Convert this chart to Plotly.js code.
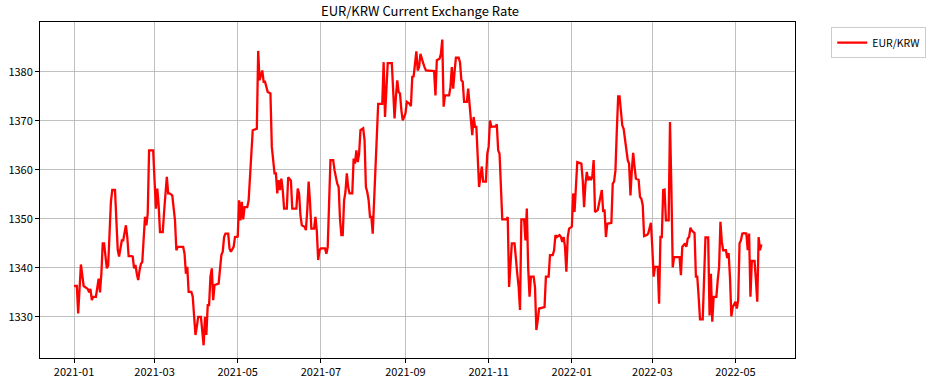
<!DOCTYPE html>
<html>
<head>
<meta charset="utf-8">
<script src="https://cdn.plot.ly/plotly-3.0.1.min.js"></script>
<style>html,body{margin:0;padding:0;background:#fff;}#chart{width:938px;height:386px;}</style>
</head>
<body>
<div id="chart"></div>
<script>
const seriesName = "EUR/KRW";
const chartTitle = "EUR/KRW Current Exchange Rate";

const dates = [
"2021-01-01","2021-01-03","2021-01-04","2021-01-06","2021-01-08","2021-01-10","2021-01-11","2021-01-12","2021-01-13","2021-01-14",
"2021-01-15","2021-01-17","2021-01-18","2021-01-19","2021-01-20","2021-01-21","2021-01-22","2021-01-23","2021-01-25","2021-01-26",
"2021-01-27","2021-01-28","2021-01-29","2021-01-31","2021-02-01","2021-02-02","2021-02-03","2021-02-05","2021-02-06","2021-02-07",
"2021-02-08","2021-02-09","2021-02-10","2021-02-12","2021-02-13","2021-02-14","2021-02-15","2021-02-16","2021-02-17","2021-02-18",
"2021-02-19","2021-02-20","2021-02-21","2021-02-22","2021-02-23","2021-02-24","2021-02-25","2021-02-28","2021-03-01","2021-03-02",
"2021-03-03","2021-03-04","2021-03-05","2021-03-07","2021-03-08","2021-03-09","2021-03-10","2021-03-11","2021-03-12","2021-03-14",
"2021-03-15","2021-03-16","2021-03-17","2021-03-18","2021-03-22","2021-03-23","2021-03-24","2021-03-25","2021-03-26","2021-03-28",
"2021-03-29","2021-03-30","2021-03-31","2021-04-01","2021-04-02","2021-04-04","2021-04-05","2021-04-06","2021-04-07","2021-04-08",
"2021-04-09","2021-04-10","2021-04-11","2021-04-12","2021-04-13","2021-04-14","2021-04-17","2021-04-19","2021-04-20","2021-04-21",
"2021-04-22","2021-04-24","2021-04-25","2021-04-26","2021-04-28","2021-04-29","2021-05-01","2021-05-02","2021-05-03","2021-05-04",
"2021-05-05","2021-05-06","2021-05-08","2021-05-09","2021-05-12","2021-05-15","2021-05-16","2021-05-17","2021-05-18","2021-05-19",
"2021-05-20","2021-05-21","2021-05-23","2021-05-25","2021-05-26","2021-05-28","2021-05-29","2021-05-30","2021-05-31","2021-06-01",
"2021-06-02","2021-06-03","2021-06-04","2021-06-06","2021-06-07","2021-06-09","2021-06-10","2021-06-13","2021-06-14","2021-06-15",
"2021-06-16","2021-06-17","2021-06-19","2021-06-20","2021-06-21","2021-06-22","2021-06-23","2021-06-24","2021-06-26","2021-06-27",
"2021-06-28","2021-06-29","2021-06-30","2021-07-01","2021-07-04","2021-07-05","2021-07-06","2021-07-07","2021-07-08","2021-07-10",
"2021-07-11","2021-07-13","2021-07-14","2021-07-15","2021-07-16","2021-07-17","2021-07-18","2021-07-19","2021-07-20","2021-07-21",
"2021-07-22","2021-07-24","2021-07-25","2021-07-26","2021-07-27","2021-07-28","2021-07-29","2021-07-30","2021-08-01","2021-08-02",
"2021-08-03","2021-08-04","2021-08-05","2021-08-06","2021-08-07","2021-08-08","2021-08-09","2021-08-11","2021-08-12","2021-08-15",
"2021-08-16","2021-08-17","2021-08-18","2021-08-19","2021-08-22","2021-08-23","2021-08-24","2021-08-25","2021-08-26","2021-08-27",
"2021-08-28","2021-08-29","2021-08-30","2021-09-01","2021-09-02","2021-09-04","2021-09-05","2021-09-06","2021-09-07","2021-09-08",
"2021-09-09","2021-09-10","2021-09-11","2021-09-12","2021-09-13","2021-09-14","2021-09-15","2021-09-16","2021-09-22","2021-09-23",
"2021-09-24","2021-09-26","2021-09-27","2021-09-28","2021-09-29","2021-09-30","2021-10-03","2021-10-04","2021-10-05","2021-10-06",
"2021-10-07","2021-10-08","2021-10-10","2021-10-11","2021-10-12","2021-10-13","2021-10-14","2021-10-16","2021-10-17","2021-10-18",
"2021-10-19","2021-10-20","2021-10-21","2021-10-22","2021-10-23","2021-10-24","2021-10-25","2021-10-27","2021-10-28","2021-10-30",
"2021-10-31","2021-11-01","2021-11-02","2021-11-03","2021-11-06","2021-11-07","2021-11-08","2021-11-09","2021-11-10","2021-11-11",
"2021-11-14","2021-11-15","2021-11-16","2021-11-17","2021-11-18","2021-11-20","2021-11-21","2021-11-22","2021-11-23","2021-11-24",
"2021-11-25","2021-11-27","2021-11-28","2021-11-29","2021-11-30","2021-12-01","2021-12-02","2021-12-04","2021-12-05","2021-12-06",
"2021-12-07","2021-12-08","2021-12-12","2021-12-13","2021-12-15","2021-12-16","2021-12-18","2021-12-19","2021-12-20","2021-12-21",
"2021-12-23","2021-12-24","2021-12-25","2021-12-26","2021-12-27","2021-12-28","2021-12-29","2021-12-30","2022-01-01","2022-01-02",
"2022-01-03","2022-01-04","2022-01-05","2022-01-07","2022-01-08","2022-01-09","2022-01-10","2022-01-11","2022-01-12","2022-01-13",
"2022-01-14","2022-01-15","2022-01-16","2022-01-17","2022-01-18","2022-01-20","2022-01-23","2022-01-24","2022-01-25","2022-01-26",
"2022-01-27","2022-01-30","2022-01-31","2022-02-01","2022-02-02","2022-02-03","2022-02-04","2022-02-05","2022-02-06","2022-02-07",
"2022-02-08","2022-02-09","2022-02-11","2022-02-12","2022-02-13","2022-02-14","2022-02-15","2022-02-16","2022-02-17","2022-02-19",
"2022-02-20","2022-02-21","2022-02-22","2022-02-23","2022-02-25","2022-02-26","2022-02-28","2022-03-01","2022-03-02","2022-03-03",
"2022-03-05","2022-03-06","2022-03-07","2022-03-08","2022-03-09","2022-03-10","2022-03-11","2022-03-13","2022-03-14","2022-03-15",
"2022-03-16","2022-03-17","2022-03-21","2022-03-22","2022-03-23","2022-03-24","2022-03-25","2022-03-26","2022-03-27","2022-03-28",
"2022-03-29","2022-03-30","2022-03-31","2022-04-01","2022-04-02","2022-04-03","2022-04-04","2022-04-05","2022-04-07","2022-04-08",
"2022-04-09","2022-04-11","2022-04-12","2022-04-13","2022-04-14","2022-04-15","2022-04-17","2022-04-18","2022-04-19","2022-04-20",
"2022-04-21","2022-04-22","2022-04-24","2022-04-25","2022-04-26","2022-04-27","2022-04-28","2022-04-29","2022-05-01","2022-05-02",
"2022-05-03","2022-05-04","2022-05-05","2022-05-06","2022-05-07","2022-05-09","2022-05-10","2022-05-11","2022-05-12","2022-05-13",
"2022-05-15","2022-05-16","2022-05-17","2022-05-18","2022-05-19","2022-05-20"
];

const rates = [
1336.3,1336.3,1330.7,1340.7,1336.3,1336.0,1335.7,1335.0,1335.7,1333.4,
1334.1,1334.1,1336.1,1337.8,1335.0,1338.8,1345.0,1345.0,1339.9,1340.5,
1347.0,1353.5,1355.9,1355.9,1349.8,1343.7,1342.3,1345.6,1345.6,1347.0,
1348.7,1346.3,1342.4,1342.4,1342.3,1339.9,1340.6,1338.8,1337.5,1339.5,
1340.8,1341.2,1347.0,1350.4,1348.7,1351.1,1364.0,1364.0,1357.9,1352.1,
1356.2,1352.8,1347.3,1347.3,1351.4,1355.2,1358.6,1355.2,1355.2,1354.8,
1351.8,1349.7,1343.6,1344.3,1344.3,1342.9,1338.8,1340.2,1335.1,1335.1,
1334.1,1330.0,1326.3,1328.0,1330.0,1330.0,1326.6,1324.2,1330.0,1326.3,
1332.4,1332.4,1338.2,1339.9,1333.4,1336.5,1336.8,1342.6,1343.3,1346.3,
1347.0,1347.0,1343.9,1343.3,1344.3,1346.3,1346.4,1353.8,1349.7,1353.5,
1349.9,1352.4,1352.4,1353.8,1368.1,1368.4,1384.3,1378.3,1379.3,1380.3,
1378.0,1378.0,1375.9,1375.6,1364.7,1359.3,1359.3,1355.2,1357.9,1355.9,
1358.2,1355.9,1352.1,1352.1,1358.5,1357.8,1352.1,1352.1,1356.2,1355.2,
1350.7,1348.7,1348.4,1347.7,1351.8,1357.6,1353.5,1348.0,1348.0,1350.4,
1347.5,1341.6,1343.6,1344.0,1344.0,1342.9,1344.3,1352.0,1362.0,1362.0,
1359.9,1357.2,1356.5,1350.0,1346.7,1346.7,1353.8,1355.5,1359.3,1356.5,
1355.2,1355.2,1362.3,1361.3,1364.0,1361.6,1363.3,1368.1,1368.5,1366.1,
1356.5,1355.5,1353.8,1350.4,1350.4,1347.0,1353.1,1364.7,1373.5,1373.5,
1382.0,1370.8,1376.9,1381.8,1381.8,1374.9,1370.5,1374.9,1378.3,1375.9,
1375.6,1372.2,1370.1,1371.5,1373.9,1373.5,1373.0,1379.0,1379.1,1381.7,
1384.2,1380.3,1381.0,1383.7,1382.4,1381.8,1381.0,1380.3,1380.2,1375.2,
1382.4,1382.7,1383.7,1386.6,1372.9,1375.2,1375.2,1376.9,1381.0,1376.6,
1380.0,1382.9,1382.9,1382.0,1378.3,1378.0,1373.9,1373.9,1376.6,1373.5,
1370.5,1367.1,1370.8,1368.8,1368.8,1363.3,1356.5,1360.7,1357.6,1357.6,
1363.3,1364.7,1370.1,1368.8,1368.9,1369.3,1364.0,1363.3,1357.9,1349.9,
1349.9,1350.4,1336.1,1341.6,1345.0,1345.0,1340.9,1338.8,1336.1,1331.4,
1349.9,1349.9,1345.6,1352.1,1340.0,1334.1,1338.2,1338.2,1336.1,1327.3,
1329.3,1331.7,1332.0,1338.2,1338.2,1342.6,1342.6,1343.6,1346.7,1346.3,
1346.7,1346.3,1345.3,1346.3,1344.3,1339.2,1346.3,1348.0,1348.4,1355.2,
1351.4,1357.2,1361.6,1361.4,1361.3,1357.9,1352.4,1357.2,1359.6,1357.9,
1358.6,1357.9,1358.6,1362.0,1351.4,1351.8,1355.9,1351.4,1351.9,1346.3,
1349.0,1349.2,1357.2,1357.6,1359.9,1368.1,1375.0,1375.0,1371.5,1369.1,
1368.4,1366.1,1362.0,1361.3,1354.8,1359.9,1363.5,1360.6,1358.2,1358.0,
1354.5,1354.1,1352.8,1346.5,1346.7,1347.0,1349.2,1344.3,1338.2,1340.2,
1340.2,1332.7,1346.3,1346.3,1355.9,1356.0,1349.7,1349.7,1369.8,1356.5,
1340.1,1342.2,1342.2,1338.5,1344.3,1344.6,1345.0,1344.3,1346.0,1346.3,
1348.2,1347.6,1347.4,1347.1,1338.2,1338.2,1334.1,1329.5,1329.5,1336.1,
1346.2,1346.2,1330.3,1338.8,1329.0,1334.1,1334.1,1337.5,1340.2,1349.4,
1345.3,1343.6,1343.6,1342.0,1343.0,1338.0,1330.1,1332.0,1333.1,1331.7,
1333.4,1345.0,1345.6,1347.0,1347.1,1347.0,1343.6,1347.0,1334.1,1341.4,
1341.4,1337.5,1333.1,1346.3,1343.6,1344.8
];

const xTickVals = ["2021-01-01","2021-03-01","2021-05-01","2021-07-01","2021-09-01","2021-11-01","2022-01-01","2022-03-01","2022-05-01"];
const xTickText = ["2021-01","2021-03","2021-05","2021-07","2021-09","2021-11","2022-01","2022-03","2022-05"];
const yTickVals = [1330,1340,1350,1360,1370,1380];

const font = "'Noto Sans CJK KR', 'Noto Sans', sans-serif";

const trace = {
  x: dates, y: rates, type: "scatter", mode: "lines", name: seriesName,
  line: {color: "#ff0000", width: 2.3}
};

const layout = {
  width: 938, height: 386,
  margin: {l: 40, r: 138, t: 22, b: 28},
  paper_bgcolor: "#ffffff", plot_bgcolor: "#ffffff",
  font: {family: font, size: 11, color: "#000"},
  title: {text: chartTitle, font: {family: font, size: 13, color: "#000"}, x: 0.4478, xanchor: "center", y: 0.97, yanchor: "middle"},
  showlegend: true,
  legend: {x: 1.048, y: 0.985, xanchor: "left", yanchor: "top", bordercolor: "#cccccc", borderwidth: 1,
           bgcolor: "#ffffff", font: {family: font, size: 10.5, color: "#000"}, itemwidth: 30},
  xaxis: {
    type: "date", range: ["2020-12-07", "2022-06-13 16:00"],
    tickvals: xTickVals, ticktext: xTickText,
    showgrid: true, gridcolor: "#b0b0b0", gridwidth: 0.8,
    showline: true, linecolor: "#000", linewidth: 1, mirror: true,
    ticks: "outside", ticklen: 4, tickcolor: "#000", zeroline: false,
    tickfont: {family: font, size: 11, color: "#000"}
  },
  yaxis: {
    range: [1321.6, 1390.2], tickvals: yTickVals,
    showgrid: true, gridcolor: "#b0b0b0", gridwidth: 0.8,
    showline: true, linecolor: "#000", linewidth: 1, mirror: true,
    ticks: "outside", ticklen: 4, tickcolor: "#000", zeroline: false,
    tickfont: {family: font, size: 11, color: "#000"}
  }
};

Plotly.newPlot("chart", [trace], layout, {displayModeBar: false, staticPlot: true});
</script>
</body>
</html>
